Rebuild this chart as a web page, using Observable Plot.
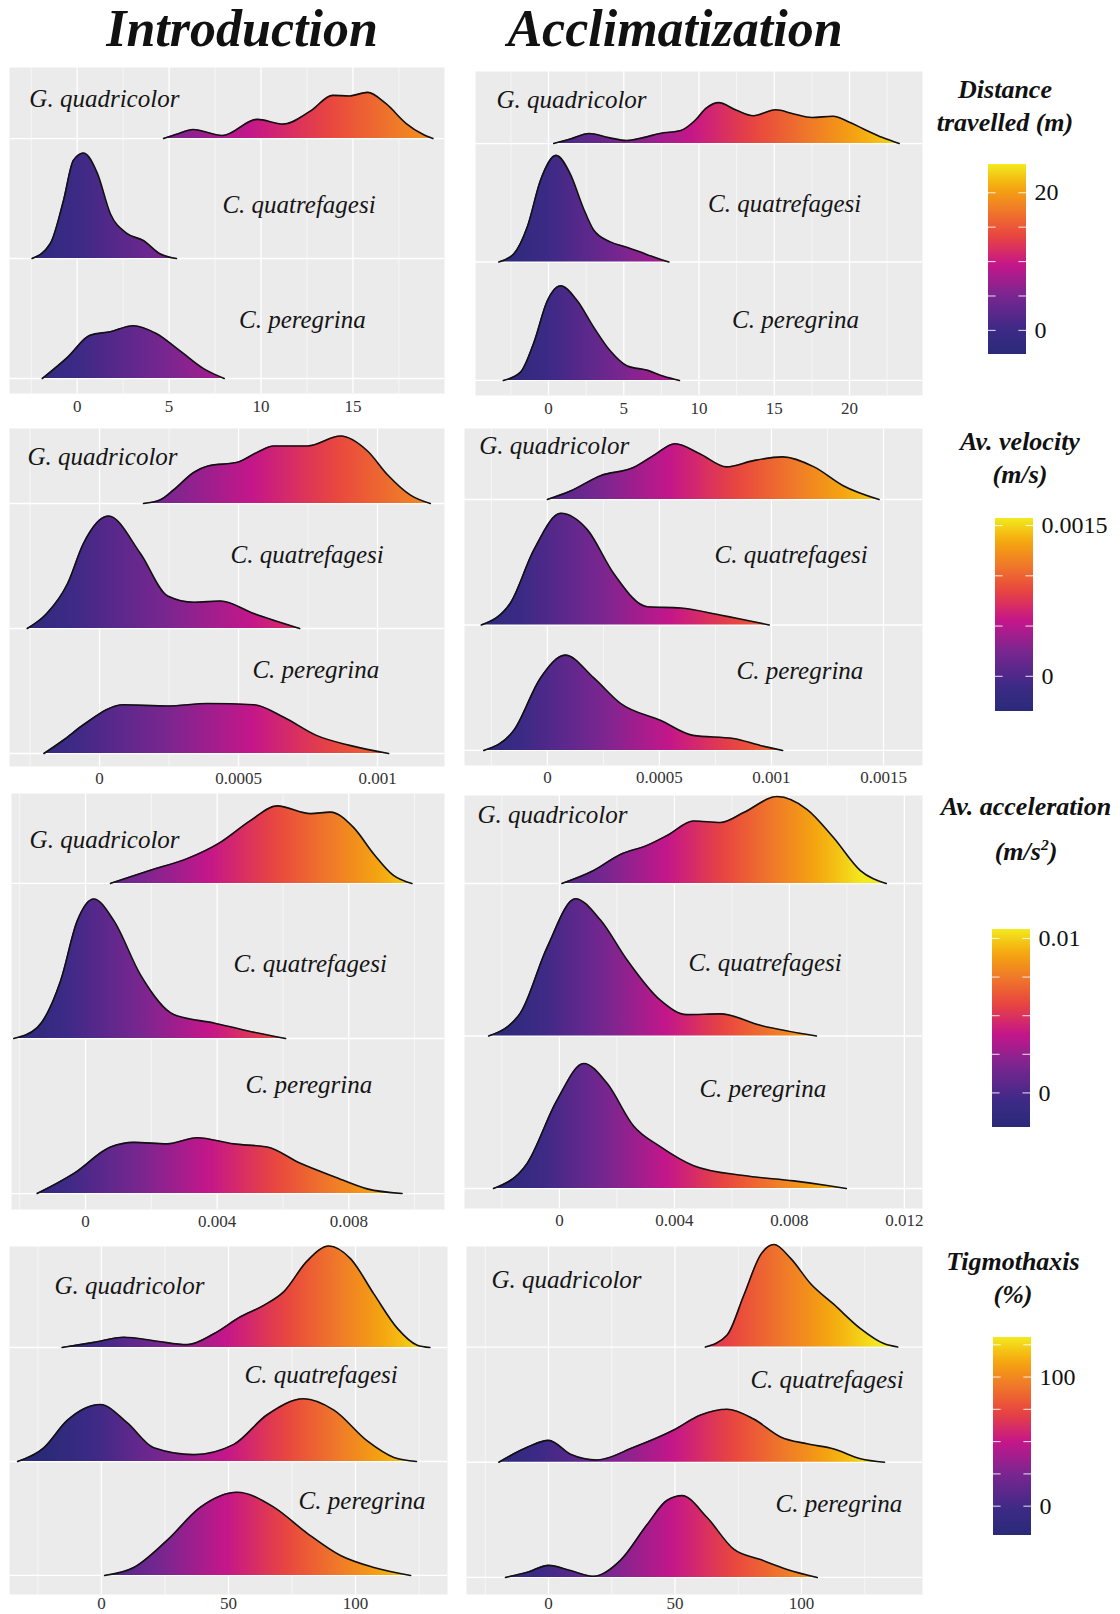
<!DOCTYPE html>
<html><head><meta charset="utf-8">
<script src="https://cdn.jsdelivr.net/npm/d3@7"></script>
<script src="https://cdn.jsdelivr.net/npm/@observablehq/plot@0.6"></script>
<style>
body{margin:0;background:#fff;}
#root{position:relative;width:1120px;height:1614px;overflow:hidden;font-family:"Liberation Serif",serif;color:#111;}
.abs{position:absolute;}
.title{font-weight:bold;font-style:italic;font-size:52px;text-align:center;width:420px;line-height:1.05;}
.ltitle{font-weight:bold;font-style:italic;font-size:26px;text-align:center;width:220px;line-height:33px;}
</style></head><body><div id="root"></div>
<script>
// ---------- categories ----------
const species = ["G. quadricolor", "C. quatrefagesi", "C. peregrina"];
const rowOf = [2, 1, 0];

// ---------- ridge outlines: [value, scaled density] ----------
// Distance travelled (m)
const distIntroG  = [[4.7,0],[5.5,.04],[6.3,.075],[7.9,.025],[9.8,.16],[11.2,.12],[12.7,.23],[13.9,.36],[14.8,.355],[15.8,.385],[16.8,.29],[17.9,.125],[18.8,.035],[19.35,0]];
const distIntroCq = [[-2.45,0],[-1.46,.125],[-0.75,.48],[-0.2,.82],[0.35,.88],[1.1,.71],[1.8,.375],[2.7,.21],[3.6,.15],[4.5,.04],[5.4,0]];
const distIntroCp = [[-1.9,0],[-0.5,.18],[0.7,.36],[1.8,.39],[3.05,.44],[4.3,.375],[5.6,.23],[6.9,.08],[8.0,0]];
const distAcclG   = [[0.35,0],[1.5,.04],[2.7,.085],[4.0,.05],[5.2,.025],[6.3,.05],[7.4,.085],[8.8,.11],[9.7,.19],[10.5,.3],[11.3,.345],[12.5,.28],[13.6,.235],[15.1,.285],[16.3,.25],[17.5,.22],[18.9,.23],[20.0,.18],[20.9,.125],[22.2,.05],[23.3,0]];
const distAcclCq  = [[-3.3,0],[-2.3,.07],[-1.4,.3],[-0.53,.69],[0.5,.9],[1.46,.74],[2.3,.46],[3.0,.27],[4.1,.17],[5.2,.125],[6.6,.06],[8.0,0]];
const distAcclCp  = [[-3.0,0],[-1.86,.07],[-1.0,.31],[-0.07,.675],[0.8,.8],[1.9,.675],[3.0,.45],[4.1,.25],[5.2,.125],[6.6,.085],[7.65,.035],[8.7,0]];
// Av. velocity (m/s)
const velIntroG  = [[0.000158,0],[0.000219,.03],[0.000267,.11],[0.00034,.25],[0.00039,.3],[0.000496,.33],[0.000568,.41],[0.000626,.46],[0.000748,.46],[0.000867,.54],[0.000964,.42],[0.001036,.23],[0.00112,.065],[0.00119,0]];
const velIntroCq = [[-0.00026,0],[-0.00019,.12],[-0.000115,.36],[-0.000058,.68],[0.000032,.9],[0.000147,.6],[0.000245,.26],[0.00034,.21],[0.000435,.22],[0.000555,.12],[0.00072,0]];
const velIntroCp = [[-0.0002,0],[-0.000128,.11],[-0.000058,.23],[0.000087,.39],[0.000245,.38],[0.000388,.4],[0.000555,.39],[0.000663,.29],[0.00078,.145],[0.0009,.065],[0.00104,0]];
const velAcclG   = [[0,0],[0.0001,.065],[0.000237,.19],[0.000384,.255],[0.000473,.35],[0.00057,.445],[0.00068,.365],[0.0008,.26],[0.00092,.31],[0.00105,.34],[0.00119,.26],[0.00132,.11],[0.00148,0]];
const velAcclCq  = [[-0.000295,0],[-0.000165,.175],[-0.00006,.6],[0.00006,.89],[0.000178,.76],[0.000296,.41],[0.000446,.145],[0.000594,.135],[0.00077,.08],[0.00099,0]];
const velAcclCp  = [[-0.000284,0],[-0.00015,.16],[-0.00003,.58],[0.00008,.76],[0.000206,.58],[0.000326,.375],[0.000504,.24],[0.00065,.12],[0.00083,.095],[0.00095,.04],[0.00105,0]];
// Av. acceleration (m/s2)
const accIntroG  = [[0.00076,0],[0.00197,.085],[0.00309,.16],[0.0041,.265],[0.00501,.405],[0.00582,.5],[0.00684,.45],[0.00744,.46],[0.00815,.36],[0.00876,.19],[0.00937,.05],[0.00992,0]];
const accIntroCq = [[-0.00218,0],[-0.00147,.07],[-0.00076,.37],[-0.00025,.76],[0.00025,.9],[0.00086,.76],[0.00167,.41],[0.00268,.155],[0.0039,.1],[0.00491,.05],[0.00608,0]];
const accIntroCp = [[-0.00147,0],[-0.00035,.13],[0.00076,.3],[0.00147,.33],[0.00248,.32],[0.00339,.36],[0.0045,.32],[0.00552,.3],[0.00653,.195],[0.00754,.11],[0.00856,.03],[0.00962,0]];
const accAcclG   = [[0.00009,0],[0.00119,.085],[0.00212,.19],[0.00305,.25],[0.00375,.315],[0.00467,.41],[0.0056,.4],[0.00641,.465],[0.00757,.57],[0.00862,.485],[0.00954,.3],[0.01047,.085],[0.01137,0]];
const accAcclCq  = [[-0.00246,0],[-0.00136,.15],[-0.00043,.58],[0.00056,.9],[0.00143,.76],[0.00235,.5],[0.00351,.235],[0.00444,.14],[0.0056,.145],[0.00699,.07],[0.00894,0]];
const accAcclCp  = [[-0.00229,0],[-0.00112,.165],[-0.00008,.58],[0.00085,.82],[0.00166,.69],[0.00258,.41],[0.00351,.275],[0.00467,.15],[0.00641,.085],[0.00815,.05],[0.00931,.02],[0.00998,0]];
// Tigmothaxis (%)
const tigIntroG  = [[-15.5,0],[-3,.045],[8.8,.09],[21.9,.055],[33.7,.025],[44.2,.12],[54.7,.27],[63.9,.37],[71.8,.49],[81,.76],[89.5,.89],[98,.78],[107.2,.47],[116.4,.17],[124.3,.02],[129.3,0]];
const tigIntroCq = [[-33,0],[-22.7,.12],[-13.5,.36],[-0.4,.5],[10.1,.34],[20.6,.12],[36.3,.06],[52.1,.15],[65.2,.41],[79.6,.55],[91.5,.45],[104.6,.18],[115.1,.035],[124,0]];
const tigIntroCp = [[1.2,0],[12.7,.07],[25.9,.31],[39,.6],[53.4,.73],[67.8,.6],[81,.37],[94.1,.175],[107.2,.07],[121.7,0]];
const tigAcclG   = [[62,0],[70.6,.105],[77.2,.45],[83.8,.8],[89.1,.89],[95.7,.77],[103.6,.55],[112.8,.37],[123.3,.16],[132.5,.03],[138,0]];
const tigAcclCq  = [[-19.6,0],[-8.4,.13],[0.1,.19],[8.7,.07],[19.2,.02],[33.7,.13],[49.5,.28],[60.1,.41],[70.6,.46],[81.1,.375],[91.7,.22],[102.2,.16],[112.8,.115],[123.3,.03],[132.8,0]];
const tigAcclCp  = [[-17,0],[-8.4,.045],[0.1,.105],[8.7,.06],[17.9,.01],[28.5,.15],[39,.46],[46.9,.67],[52.8,.71],[62.7,.52],[73.2,.245],[83.8,.155],[94.3,.07],[106.2,0]];

// ---------- tick labels ----------
const distIntroTicks = [0, 5, 10, 15];
const distAcclTicks  = [0, 5, 10, 15, 20];
const velIntroTicks  = [0, 0.0005, 0.001];
const velAcclTicks   = [0, 0.0005, 0.001, 0.0015];
const accIntroTicks  = [0, 0.004, 0.008];
const accAcclTicks   = [0, 0.004, 0.008, 0.012];
const tigTicks       = [0, 50, 100];

// ---------- colour bars ----------
const legendTitles = [["Distance", "travelled (m)"], ["Av. velocity", "(m/s)"], ["Av. acceleration", "(m/s²)"], ["Tigmothaxis", "(%)"]];
const distColorDomain = [-3.5, 24.1];
const velColorDomain  = [-0.00035, 0.00157];
const accColorDomain  = [-0.00224, 0.01058];
const tigColorDomain  = [-22.7, 130.6];
const distLegendTicks = [0, 20],      distLegendMinor = [0, 5, 10, 15, 20];
const velLegendTicks  = [0, 0.0015],  velLegendMinor  = [0, 0.0005, 0.001, 0.0015];
const accLegendTicks  = [0, 0.01],    accLegendMinor  = [0, 0.0025, 0.005, 0.0075, 0.01];
const tigLegendTicks  = [0, 100],     tigLegendMinor  = [0, 25, 50, 75, 100, 125];
// palette (fraction of bar height -> colour)
const paletteStops  = [0, 0.127, 0.31, 0.47, 0.62, 0.76, 0.88, 1];
const paletteColors = ["#2a2a78", "#3c2a86", "#7a2690", "#c5168a", "#e84440", "#f07a28", "#f5a80e", "#f2ea1e"];

const root = document.getElementById("root");
const FONT = "'Liberation Serif', serif";

function colorFn(cd) {
  const dom = paletteStops.map(t => cd[0] + t * (cd[1] - cd[0]));
  try {
    const s = Plot.scale({color: {type: "linear", domain: dom, range: paletteColors, interpolate: "rgb"}});
    const test = s.apply(dom[3]);
    if (!test) throw new Error("no colour");
    return v => s.apply(v);
  } catch (e) {
    const s = d3.scaleLinear(dom, paletteColors).interpolate(d3.interpolateRgb).clamp(true);
    return s;
  }
}

function place(node, left, top, w) {
  const div = document.createElement("div");
  div.className = "abs";
  div.style.left = left + "px"; div.style.top = top + "px"; div.style.width = w + "px";
  div.appendChild(node);
  root.appendChild(div);
}

function addGradient(svg, gid, cd, p0, p1, vertical) {
  const col = colorFn(cd);
  const grad = svg.insert("defs", ":first-child").append("linearGradient")
    .attr("id", gid).attr("gradientUnits", "userSpaceOnUse")
    .attr("x1", vertical ? 0 : p0).attr("x2", vertical ? 0 : p1)
    .attr("y1", vertical ? p0 : 0).attr("y2", vertical ? p1 : 0);
  for (let k = 0; k <= 30; k++) {
    const t = k / 30;
    grad.append("stop").attr("offset", t).attr("stop-color", col(cd[0] + t * (cd[1] - cd[0])));
  }
}

function panel(cfg) {
  const gid = "grad-" + cfg.id;
  const major = cfg.ticks;
  const step = major[1] - major[0];
  const minor = [];
  for (let k = -4; k < major.length + 4; k++) {
    const v = major[0] + (k + 0.5) * step;
    if (v > cfg.xDomain[0] && v < cfg.xDomain[1]) minor.push(v);
  }
  const series = cfg.ridges.map((pts, i) => pts.map(([x, h]) => ({x, base: rowOf[i], top: rowOf[i] + h})));
  const labels = species.map((s, i) => ({s, x: cfg.labels[i][0], y: cfg.labels[i][1]}));
  const marks = [
    Plot.frame({fill: "#ebebeb", stroke: "none"}),
    Plot.ruleX(minor, {stroke: "white", strokeWidth: 0.6}),
    Plot.ruleX(major, {stroke: "white", strokeWidth: 1.3}),
    Plot.ruleY(rowOf, {stroke: "white", strokeWidth: 1.3})
  ];
  series.forEach(d => {
    marks.push(Plot.area(d, {x1: "x", y1: "base", y2: "top", fill: `url(#${gid})`, curve: "monotone-x"}));
    marks.push(Plot.line(d, {x: "x", y: "top", stroke: "#111", strokeWidth: 1.6, curve: "monotone-x"}));
  });
  marks.push(Plot.text(labels, {x: "x", y: "y", text: "s", textAnchor: "start", fontSize: 25, fontStyle: "italic", fill: "#151515", ariaLabel: "species"}));
  const chart = Plot.plot({
    width: cfg.w, height: cfg.h + 30,
    marginLeft: 0, marginRight: 0, marginTop: 0, marginBottom: 30,
    x: {domain: cfg.xDomain, ticks: major, tickSize: 0, tickPadding: cfg.pad ?? 5, tickFormat: d => String(d), label: null},
    y: {domain: cfg.yDomain, axis: null},
    style: {fontFamily: FONT, fontSize: "17px", color: "#333", background: "transparent", overflow: "visible"},
    marks
  });
  const xs = chart.scale("x");
  const svg = d3.select(chart);
  addGradient(svg, gid, cfg.colorDomain, xs.apply(cfg.colorDomain[0]), xs.apply(cfg.colorDomain[1]), false);
  // genus initial upright, epithet italic
  svg.selectAll('g[aria-label="species"] text').each(function () {
    const full = this.textContent; const i = full.indexOf(" ");
    const sel = d3.select(this).style("white-space", "pre");
    this.textContent = "";
    sel.append("tspan").attr("font-style", "normal").text(full.slice(0, i));
    sel.append("tspan").attr("font-style", "italic").text(full.slice(i));
  });
  place(chart, cfg.left, cfg.top, cfg.w);
}

function legend(cfg) {
  const gid = "lg-" + cfg.id;
  const chart = Plot.plot({
    width: 38 + 90, height: cfg.h,
    marginLeft: 0, marginRight: 90, marginTop: 0, marginBottom: 0,
    x: {domain: [0, 1], axis: null},
    y: {domain: cfg.colorDomain, axis: "right", ticks: cfg.ticks, tickSize: 0, tickPadding: 8, tickFormat: d => String(d), label: null},
    style: {fontFamily: FONT, fontSize: "24px", color: "#111", background: "transparent", overflow: "visible"},
    marks: [
      Plot.rect([cfg.colorDomain], {x1: 0, x2: 1, y1: d => d[0], y2: d => d[1], fill: `url(#${gid})`}),
      Plot.ruleY(cfg.minor, {x1: 0, x2: 0.2, stroke: "white", strokeWidth: 1.1, strokeOpacity: 0.8}),
      Plot.ruleY(cfg.minor, {x1: 0.8, x2: 1, stroke: "white", strokeWidth: 1.1, strokeOpacity: 0.8})
    ]
  });
  const ys = chart.scale("y");
  addGradient(d3.select(chart), gid, cfg.colorDomain, ys.apply(cfg.colorDomain[0]), ys.apply(cfg.colorDomain[1]), true);
  place(chart, cfg.left, cfg.top, 128);
  const t = document.createElement("div");
  t.className = "abs ltitle";
  t.style.left = (cfg.titleX - 110) + "px"; t.style.top = cfg.titleTop + "px";
  if (cfg.lineHeight) t.style.lineHeight = cfg.lineHeight + "px";
  t.innerHTML = cfg.title[0] + "<br>" + cfg.title[1].replace("²", "<sup style='font-size:60%'>2</sup>");
  root.appendChild(t);
}

// ---------- headings ----------
[["Introduction", 242], ["Acclimatization", 675]].forEach(([txt, cx]) => {
  const d = document.createElement("div");
  d.className = "abs title"; d.textContent = txt;
  d.style.left = (cx - 210) + "px"; d.style.top = "2px";
  root.appendChild(d);
});

// ---------- panels ----------
const panels = [
  {id: "p1a", left: 9,   top: 67,   w: 435, h: 326, xDomain: [-3.68, 19.98], yDomain: [-0.125, 2.592], ticks: distIntroTicks, colorDomain: distColorDomain,
   ridges: [distIntroG, distIntroCq, distIntroCp], labels: [[-2.6, 2.33], [7.9, 1.45], [8.8, 0.49]], pad: 6},
  {id: "p1b", left: 475, top: 71,   w: 447, h: 324, xDomain: [-4.85, 24.85], yDomain: [-0.127, 2.608], ticks: distAcclTicks, colorDomain: distColorDomain,
   ridges: [distAcclG, distAcclCq, distAcclCp], labels: [[-3.45, 2.37], [10.6, 1.49], [12.2, 0.51]], pad: 6},
  {id: "p2a", left: 9,   top: 428,  w: 435, h: 338, xDomain: [-0.000324, 0.001241], yDomain: [-0.104, 2.6], ticks: velIntroTicks, colorDomain: velColorDomain,
   ridges: [velIntroG, velIntroCq, velIntroCp], labels: [[-0.000259, 2.37], [0.000471, 1.59], [0.00055, 0.67]]},
  {id: "p2b", left: 464, top: 428,  w: 458, h: 337, xDomain: [-0.00037, 0.001674], yDomain: [-0.12, 2.566], ticks: velAcclTicks, colorDomain: velColorDomain,
   ridges: [velAcclG, velAcclCq, velAcclCp], labels: [[-0.000304, 2.43], [0.000746, 1.56], [0.000844, 0.63]]},
  {id: "p3a", left: 11,  top: 793,  w: 433, h: 416, xDomain: [-0.00225, 0.01091], yDomain: [-0.103, 2.58], ticks: accIntroTicks, colorDomain: accColorDomain,
   ridges: [accIntroG, accIntroCq, accIntroCp], labels: [[-0.0017, 2.28], [0.0045, 1.48], [0.00486, 0.70]]},
  {id: "p3b", left: 464, top: 795,  w: 458, h: 413, xDomain: [-0.0033, 0.01263], yDomain: [-0.131, 2.577], ticks: accAcclTicks, colorDomain: accColorDomain,
   ridges: [accAcclG, accAcclCq, accAcclCp], labels: [[-0.00285, 2.45], [0.00449, 1.48], [0.00487, 0.65]]},
  {id: "p4a", left: 9,   top: 1246, w: 438, h: 348, xDomain: [-36.2, 136.2], yDomain: [-0.167, 2.886], ticks: tigTicks, colorDomain: tigColorDomain,
   ridges: [tigIntroG, tigIntroCq, tigIntroCp], labels: [[-18.5, 2.54], [56.3, 1.76], [77.6, 0.65]], pad: 2},
  {id: "p4b", left: 466, top: 1246, w: 456, h: 348, xDomain: [-32.4, 147.8], yDomain: [-0.148, 2.873], ticks: tigTicks, colorDomain: tigColorDomain,
   ridges: [tigAcclG, tigAcclCq, tigAcclCp], labels: [[-22.5, 2.58], [79.8, 1.71], [89.7, 0.64]], pad: 2}
];
panels.forEach(panel);

// ---------- legends ----------
[
  {id: "l1", left: 988, top: 164,  h: 190, colorDomain: distColorDomain, ticks: distLegendTicks, minor: distLegendMinor, title: legendTitles[0], titleX: 1005, titleTop: 73},
  {id: "l2", left: 995, top: 518,  h: 193, colorDomain: velColorDomain,  ticks: velLegendTicks,  minor: velLegendMinor,  title: legendTitles[1], titleX: 1020, titleTop: 425},
  {id: "l3", left: 992, top: 929,  h: 198, colorDomain: accColorDomain,  ticks: accLegendTicks,  minor: accLegendMinor,  title: legendTitles[2], titleX: 1026, titleTop: 788, lineHeight: 38},
  {id: "l4", left: 993, top: 1337, h: 198, colorDomain: tigColorDomain,  ticks: tigLegendTicks,  minor: tigLegendMinor,  title: legendTitles[3], titleX: 1013, titleTop: 1245}
].forEach(legend);
</script>
</body></html>
